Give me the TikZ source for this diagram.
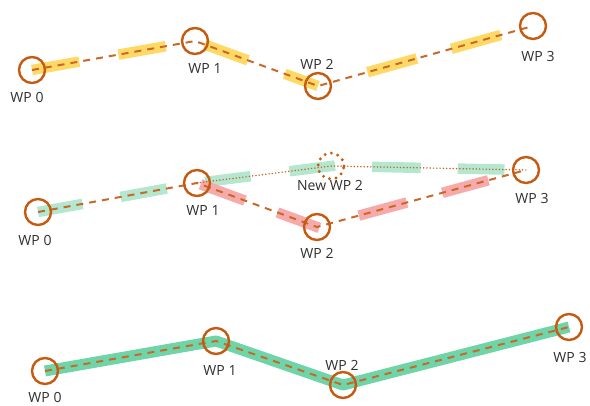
\documentclass[tikz,border=0pt]{standalone}
\usepackage{fontspec}
\setmainfont{Open Sans}
\usetikzlibrary{calc}
\definecolor{wpor}{HTML}{C55A11}
\definecolor{dsh}{HTML}{C8692A}
\definecolor{ybar}{HTML}{FFD966}
\definecolor{gbar}{HTML}{B4E7CF}
\definecolor{rbar}{HTML}{F7AAAA}
\definecolor{gfull}{HTML}{6FD4A7}
\definecolor{txt}{HTML}{303030}
\tikzset{
  wpc/.style={circle, draw=wpor, line width=2.4pt, minimum size=26pt, inner sep=0pt},
  newwpc/.style={circle, draw=wpor, line width=3.2pt, minimum size=26pt, inner sep=0pt, dash pattern=on 0pt off 6.6pt, line cap=round},
  dashline/.style={draw=dsh, line width=2pt, dash pattern=on 7pt off 6pt},
  dotline/.style={draw=dsh, line width=1.7pt, dash pattern=on 0pt off 3.3pt, line cap=round},
  barY/.style={draw=ybar, line width=10.5pt},
  barG/.style={draw=gbar, line width=10.5pt},
  barR/.style={draw=rbar, line width=10.5pt},
  barFull/.style={draw=gfull, line width=11pt, line join=round},
  lbl/.style={font=\fontsize{14}{16}\selectfont, text=txt, inner sep=0pt},
}
\begin{document}
\begin{tikzpicture}[x=1pt,y=-1pt]
\useasboundingbox (0,0) rectangle (590,405);
% ---------- top row
\coordinate (a0) at (32,70);
\coordinate (a1) at (195,41);
\coordinate (a2) at (318,86);
\coordinate (a3) at (533,26);
\draw[barY] ($(a0)!0!(a1)$) -- ($(a0)!0.29!(a1)$);
\draw[barY] ($(a0)!0.53!(a1)$) -- ($(a0)!0.82!(a1)$);
\draw[barY] ($(a1)!0.08!(a2)$) -- ($(a1)!0.43!(a2)$);
\draw[barY] ($(a1)!0.73!(a2)$) -- ($(a1)!1!(a2)$);
\draw[barY] ($(a2)!0.23!(a3)$) -- ($(a2)!0.46!(a3)$);
\draw[barY] ($(a2)!0.62!(a3)$) -- ($(a2)!0.85!(a3)$);
\draw[dashline] (a0) -- (a1) -- (a2) -- (a3);
\node[wpc] (ca0) at (a0) {};
\node[wpc] (ca1) at (a1) {};
\node[wpc] (ca2) at (a2) {};
\node[wpc] (ca3) at (a3) {};
\node[lbl] (la0) at (27,97) {WP 0};
\node[lbl] (la1) at (205,68) {WP 1};
\node[lbl] (la2) at (317,64) {WP 2};
\node[lbl] (la3) at (538,56) {WP 3};
% ---------- middle row
\coordinate (b0) at (38,212);
\coordinate (b1) at (197,183);
\coordinate (b2) at (317,227);
\coordinate (b3) at (526,170);
\coordinate (bn) at (331,166);
\draw[barG] ($(b0)!0!(b1)$) -- ($(b0)!0.28!(b1)$);
\draw[barG] ($(b0)!0.52!(b1)$) -- ($(b0)!0.81!(b1)$);
\draw[barG] ($(b1)!0.06!(bn)$) -- ($(b1)!0.40!(bn)$);
\draw[barG] ($(b1)!0.69!(bn)$) -- ($(b1)!1.03!(bn)$);
\draw[barG] ($(bn)!0.21!(b3)$) -- ($(bn)!0.46!(b3)$);
\draw[barG] ($(bn)!0.65!(b3)$) -- ($(bn)!0.89!(b3)$);
\draw[barR] ($(b1)!0.03!(b2)$) -- ($(b1)!0.40!(b2)$);
\draw[barR] ($(b1)!0.67!(b2)$) -- ($(b1)!1.02!(b2)$);
\draw[barR] ($(b2)!0.20!(b3)$) -- ($(b2)!0.43!(b3)$);
\draw[barR] ($(b2)!0.60!(b3)$) -- ($(b2)!0.82!(b3)$);
\draw[dashline] (b0) -- (b1) -- (b2) -- (b3);
\draw[dotline] (b1) -- (bn) -- (b3);
\node[wpc] (cb0) at (b0) {};
\node[wpc] (cb1) at (b1) {};
\node[wpc] (cb2) at (b2) {};
\node[wpc] (cb3) at (b3) {};
\node[newwpc] (cbn) at (bn) {};
\node[lbl] (lb0) at (35,240) {WP 0};
\node[lbl] (lb1) at (203,210) {WP 1};
\node[lbl] (lbn) at (330,185) {New WP 2};
\node[lbl] (lb2) at (317,253) {WP 2};
\node[lbl] (lb3) at (532,198) {WP 3};
% ---------- bottom row
\coordinate (c0) at (45,371);
\coordinate (c1) at (216,341);
\coordinate (c2) at (343,385);
\coordinate (c3) at (569,327);
\draw[barFull] (c0) -- (c1) -- (c2) -- (c3);
\draw[dashline] (c0) -- (c1) -- (c2) -- (c3);
\node[wpc] (cc0) at (c0) {};
\node[wpc] (cc1) at (c1) {};
\node[wpc] (cc2) at (c2) {};
\node[wpc] (cc3) at (c3) {};
\node[lbl] (lc0) at (45,397) {WP 0};
\node[lbl] (lc1) at (220,370) {WP 1};
\node[lbl] (lc2) at (342,365) {WP 2};
\node[lbl] (lc3) at (570,357) {WP 3};
\end{tikzpicture}
\end{document}
